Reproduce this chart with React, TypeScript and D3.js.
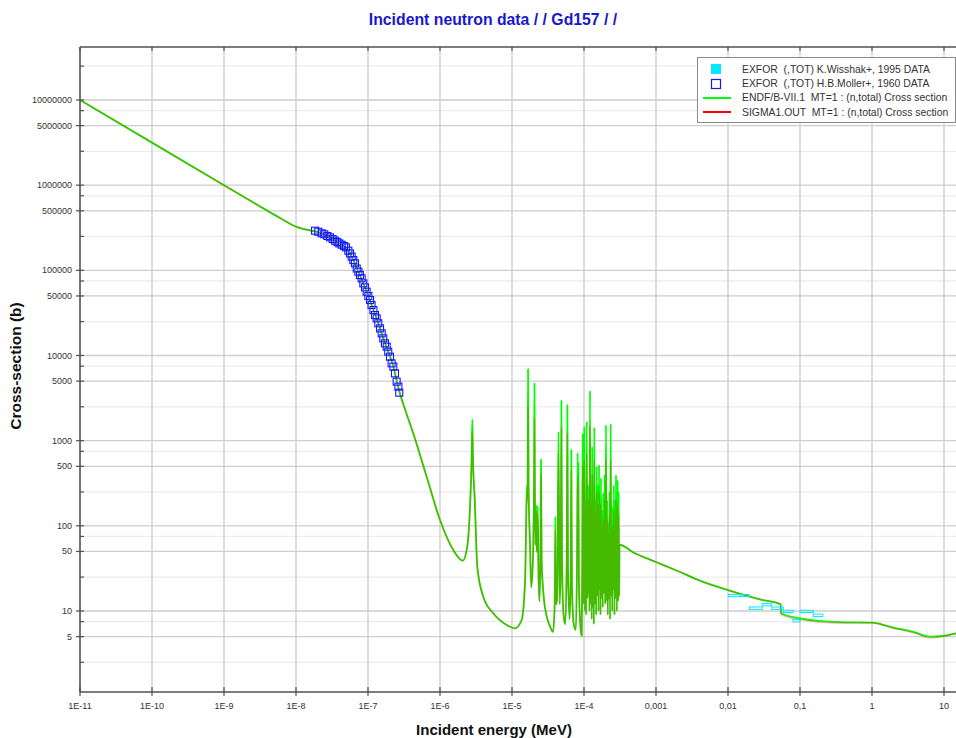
import React from "react";
import * as d3 from "d3";

// ---------- data ----------
const titleText = "Incident neutron data / / Gd157 / /";
const xTitle = "Incident energy (MeV)";
const yTitle = "Cross-section (b)";

// ENDF/B-VII.1 total cross section [E (MeV), sigma (b)]
const endfPoints: [number, number][] = [
  [1e-11, 1.0e7], [1e-10, 3.16e6], [1e-9, 1.0e6], [3e-9, 5.78e5], [6e-9, 4.12e5], [1e-8, 3.26e5], [1.4e-8, 3.0e5],
  [1.84e-8, 2.86e5], [2.47e-8, 2.63e5], [3.23e-8, 2.33e5], [4.0e-8, 2.07e5], [4.65e-8, 1.92e5],
  [5.33e-8, 1.7e5], [6.25e-8, 1.32e5], [7.35e-8, 9.6e4], [8.61e-8, 7.0e4], [1.01e-7, 5.0e4],
  [1.19e-7, 3.42e4], [1.39e-7, 2.39e4], [1.63e-7, 1.59e4], [1.91e-7, 1.11e4], [2.25e-7, 7.4e3],
  [2.5e-7, 5.1e3], [2.72e-7, 3.8e3], [3.0e-7, 2.9e3], [4.25e-7, 1220], [6.53e-7, 377],
  [1.0e-6, 117], [1.53e-6, 52], [2.07e-6, 39], [2.39e-6, 57], [2.61e-6, 168],
  [2.75e-6, 650], [2.81e-6, 1780], [2.87e-6, 650], [3.03e-6, 220], [3.3e-6, 33],
  [3.99e-6, 14.7], [5.5e-6, 9.4], [8.44e-6, 6.85], [1.1e-5, 6.26], [1.36e-5, 7.84],
  [1.52e-5, 23], [1.6e-5, 240], [1.62e-5, 300], [1.64e-5, 200], [1.67e-5, 6900],
  [1.7e-5, 300], [1.78e-5, 60], [1.85e-5, 19], [1.95e-5, 40], [2.02e-5, 300],
  [2.05e-5, 4700], [2.08e-5, 300], [2.12e-5, 60], [2.16e-5, 175], [2.2e-5, 50],
  [2.28e-5, 170], [2.33e-5, 30], [2.4e-5, 13], [2.48e-5, 40], [2.53e-5, 600],
  [2.58e-5, 40], [2.75e-5, 15], [3.0e-5, 9], [3.4e-5, 6.5], [3.72e-5, 5.7],
  [3.92e-5, 12], [4.0e-5, 128], [4.08e-5, 12], [4.25e-5, 14], [4.42e-5, 1270],
  [4.6e-5, 12], [4.75e-5, 40], [4.85e-5, 2950], [4.95e-5, 40], [5.2e-5, 9],
  [5.5e-5, 7], [5.75e-5, 40], [5.87e-5, 2620], [6.0e-5, 30], [6.3e-5, 8],
  [6.55e-5, 30], [6.66e-5, 780], [6.8e-5, 20], [7.2e-5, 7], [7.7e-5, 6],
  [8.0e-5, 40], [8.17e-5, 720], [8.25e-5, 60], [8.35e-5, 550], [8.5e-5, 20],
  [9.0e-5, 6], [9.3e-5, 5.1], [9.45e-5, 40], [9.59e-5, 1220], [9.8e-5, 12],
  [1.01e-4, 1460], [1.03e-4, 10], [1.05e-4, 200], [1.07e-4, 9], [1.09e-4, 1670],
  [1.115e-4, 14], [1.14e-4, 300], [1.155e-4, 16], [1.17e-4, 150], [1.19e-4, 10],
  [1.21e-4, 3860], [1.235e-4, 12], [1.26e-4, 250], [1.28e-4, 8], [1.3e-4, 850],
  [1.325e-4, 11], [1.35e-4, 120], [1.37e-4, 7], [1.39e-4, 1435], [1.42e-4, 12],
  [1.45e-4, 200], [1.475e-4, 9], [1.5e-4, 494], [1.53e-4, 15], [1.56e-4, 300],
  [1.59e-4, 10], [1.62e-4, 518], [1.645e-4, 18], [1.67e-4, 180], [1.695e-4, 9],
  [1.72e-4, 362], [1.755e-4, 14], [1.79e-4, 150], [1.82e-4, 11], [1.85e-4, 241],
  [1.89e-4, 16], [1.93e-4, 400], [1.97e-4, 12], [2.02e-4, 1528], [2.06e-4, 13],
  [2.1e-4, 200], [2.14e-4, 9], [2.18e-4, 107], [2.22e-4, 14], [2.26e-4, 250],
  [2.3e-4, 8], [2.35e-4, 1570], [2.39e-4, 15], [2.43e-4, 120], [2.47e-4, 10],
  [2.51e-4, 168], [2.55e-4, 18], [2.6e-4, 300], [2.65e-4, 9], [2.7e-4, 200],
  [2.74e-4, 14], [2.78e-4, 395], [2.86e-4, 10], [2.94e-4, 345], [2.98e-4, 13],
  [3.03e-4, 250], [3.08e-4, 15], [3.11e-4, 60], [5e-4, 48], [1.0e-3, 37.6], [2e-3, 29.5], [4.08e-3, 22.7],
  [1.0e-2, 17.6], [2.78e-2, 13.7], [5.4e-2, 12.0], [5.45e-2, 9.4], [1.0e-1, 8.2],
  [3.6e-1, 7.4], [1.0, 7.3], [1.98, 6.4], [3.75, 5.7], [6.4, 5.0],
  [10, 5.12], [14.7, 5.47], [20, 5.7],
];

// SIGMA1.OUT (Doppler broadened) [E (MeV), sigma (b)]
const sigma1Points: [number, number][] = [
  [1e-11, 1.0e7], [1e-10, 3.16e6], [1e-9, 1.0e6], [3e-9, 5.78e5], [6e-9, 4.12e5], [1e-8, 3.26e5], [1.4e-8, 3.0e5],
  [1.84e-8, 2.86e5], [2.47e-8, 2.63e5], [3.23e-8, 2.33e5], [4.0e-8, 2.07e5], [4.65e-8, 1.92e5],
  [5.33e-8, 1.7e5], [6.25e-8, 1.32e5], [7.35e-8, 9.6e4], [8.61e-8, 7.0e4], [1.01e-7, 5.0e4],
  [1.19e-7, 3.42e4], [1.39e-7, 2.39e4], [1.63e-7, 1.59e4], [1.91e-7, 1.11e4], [2.25e-7, 7.4e3],
  [2.5e-7, 5.1e3], [2.72e-7, 3.8e3], [3.0e-7, 2.9e3], [4.25e-7, 1220], [6.53e-7, 377],
  [1.0e-6, 117], [1.53e-6, 52], [2.07e-6, 39], [2.39e-6, 57], [2.61e-6, 160],
  [2.75e-6, 500], [2.81e-6, 1300], [2.87e-6, 500], [3.03e-6, 200], [3.3e-6, 33],
  [3.99e-6, 14.7], [5.5e-6, 9.4], [8.44e-6, 6.85], [1.1e-5, 6.26], [1.36e-5, 7.84],
  [1.52e-5, 22], [1.6e-5, 200], [1.62e-5, 250], [1.64e-5, 180], [1.67e-5, 2500],
  [1.7e-5, 250], [1.78e-5, 58], [1.85e-5, 19], [1.95e-5, 38], [2.02e-5, 250],
  [2.05e-5, 1800], [2.08e-5, 250], [2.12e-5, 58], [2.16e-5, 150], [2.2e-5, 48],
  [2.28e-5, 140], [2.33e-5, 30], [2.4e-5, 13], [2.48e-5, 38], [2.53e-5, 400],
  [2.58e-5, 38], [2.75e-5, 15], [3.0e-5, 9], [3.4e-5, 6.5], [3.72e-5, 5.7],
  [3.92e-5, 12], [4.0e-5, 90], [4.08e-5, 12], [4.25e-5, 14], [4.42e-5, 700],
  [4.6e-5, 12], [4.75e-5, 38], [4.85e-5, 1400], [4.95e-5, 38], [5.2e-5, 9],
  [5.5e-5, 7], [5.75e-5, 38], [5.87e-5, 1200], [6.0e-5, 28], [6.3e-5, 8],
  [6.55e-5, 28], [6.66e-5, 450], [6.8e-5, 19], [7.2e-5, 7], [7.7e-5, 6],
  [8.0e-5, 38], [8.17e-5, 400], [8.25e-5, 58], [8.35e-5, 300], [8.5e-5, 19],
  [9.0e-5, 6], [9.3e-5, 5.1], [9.45e-5, 38], [9.59e-5, 500], [9.8e-5, 12],
  [1.01e-4, 600], [1.03e-4, 10], [1.05e-4, 150], [1.07e-4, 9], [1.09e-4, 700],
  [1.115e-4, 14], [1.14e-4, 200], [1.155e-4, 16], [1.17e-4, 110], [1.19e-4, 10],
  [1.21e-4, 1500], [1.235e-4, 12], [1.26e-4, 170], [1.28e-4, 8], [1.3e-4, 400],
  [1.325e-4, 11], [1.35e-4, 90], [1.37e-4, 7], [1.39e-4, 600], [1.42e-4, 12],
  [1.45e-4, 140], [1.475e-4, 9], [1.5e-4, 250], [1.53e-4, 15], [1.56e-4, 180],
  [1.59e-4, 10], [1.62e-4, 250], [1.645e-4, 18], [1.67e-4, 120], [1.695e-4, 9],
  [1.72e-4, 180], [1.755e-4, 14], [1.79e-4, 100], [1.82e-4, 11], [1.85e-4, 120],
  [1.89e-4, 16], [1.93e-4, 200], [1.97e-4, 12], [2.02e-4, 600], [2.06e-4, 13],
  [2.1e-4, 120], [2.14e-4, 9], [2.18e-4, 80], [2.22e-4, 14], [2.26e-4, 140],
  [2.3e-4, 8], [2.35e-4, 600], [2.39e-4, 15], [2.43e-4, 80], [2.47e-4, 10],
  [2.51e-4, 100], [2.55e-4, 18], [2.6e-4, 150], [2.65e-4, 9], [2.7e-4, 110],
  [2.74e-4, 14], [2.78e-4, 200], [2.86e-4, 10], [2.94e-4, 170], [2.98e-4, 13],
  [3.03e-4, 130], [3.08e-4, 15], [3.11e-4, 60], [5e-4, 48], [1.0e-3, 37.6], [2e-3, 29.5], [4.08e-3, 22.7],
  [1.0e-2, 17.6], [2.78e-2, 13.7], [5.4e-2, 12.0], [5.45e-2, 9.1], [1.0e-1, 7.9],
  [3.6e-1, 7.2], [1.0, 7.25], [1.98, 6.3], [3.75, 5.55], [6.4, 4.85],
  [10, 5.05], [14.7, 5.45], [20, 5.7],
];

// EXFOR H.B.Moller+, 1960 [E (MeV), sigma (b)]
const mollerPoints: [number, number][] = [
  [1.84e-8, 2.92e5], [2.04e-8, 2.84e5], [2.27e-8, 2.72e5], [2.47e-8, 2.65e5], [2.72e-8, 2.53e5],
  [2.96e-8, 2.44e5], [3.23e-8, 2.33e5], [3.48e-8, 2.23e5], [3.75e-8, 2.15e5], [4.0e-8, 2.07e5],
  [4.31e-8, 2.0e5], [4.65e-8, 1.93e5], [4.94e-8, 1.86e5], [5.33e-8, 1.7e5], [5.62e-8, 1.58e5],
  [5.93e-8, 1.45e5], [6.25e-8, 1.32e5], [6.59e-8, 1.21e5], [6.97e-8, 1.05e5], [7.35e-8, 9.64e4],
  [7.74e-8, 8.81e4], [8.17e-8, 8.05e4], [8.61e-8, 7.03e4], [9.08e-8, 6.31e4], [9.57e-8, 5.61e4],
  [1.01e-7, 4.99e4], [1.07e-7, 4.48e4], [1.12e-7, 3.92e4], [1.19e-7, 3.42e4], [1.25e-7, 2.99e4],
  [1.32e-7, 2.73e4], [1.39e-7, 2.39e4], [1.47e-7, 2.08e4], [1.55e-7, 1.82e4], [1.63e-7, 1.59e4],
  [1.72e-7, 1.39e4], [1.82e-7, 1.27e4], [1.91e-7, 1.11e4], [2.02e-7, 9.68e3], [2.13e-7, 8.09e3],
  [2.25e-7, 7.4e3], [2.37e-7, 6.17e3], [2.5e-7, 4.93e3], [2.64e-7, 4.31e3], [2.72e-7, 3.66e3],
];

// EXFOR K.Wisshak+, 1995 (energy bins)
const wisshakLo = [0.0101, 0.0147, 0.0198, 0.0299, 0.0405, 0.0586, 0.08, 0.1, 0.153];
const wisshakHi = [0.0147, 0.0198, 0.0299, 0.0405, 0.0586, 0.08, 0.1, 0.153, 0.207];
const wisshakXs = [15.2, 15.2, 10.8, 11.9, 10.8, 9.9, 7.7, 9.9, 8.9];
const wisshakErr = [0.45, 0.45, 0.35, 0.4, 0.35, 0.3, 0.25, 0.3, 0.3];

const xTickValues = [1e-11, 1e-10, 1e-9, 1e-8, 1e-7, 1e-6, 1e-5, 1e-4, 1e-3, 1e-2, 1e-1, 1, 10];
const xTickLabels = ["1E-11", "1E-10", "1E-9", "1E-8", "1E-7", "1E-6", "1E-5", "1E-4", "0,001", "0,01", "0,1", "1", "10"];
const yTickValues = [5, 10, 50, 100, 500, 1000, 5000, 10000, 50000, 100000, 500000, 1000000, 5000000, 10000000];
const yTickLabels = ["5", "10", "50", "100", "500", "1000", "5000", "10000", "50000", "100000", "500000", "1000000", "5000000", "10000000"];
const yMinorValues = [2.5, 7.5, 25, 75, 250, 750, 2500, 7500, 25000, 75000, 250000, 750000, 2500000, 7500000, 25000000];

const legendLabels = [
  "EXFOR  (,TOT) K.Wisshak+, 1995 DATA",
  "EXFOR  (,TOT) H.B.Moller+, 1960 DATA",
  "ENDF/B-VII.1  MT=1 : (n,total) Cross section",
  "SIGMA1.OUT  MT=1 : (n,total) Cross section",
];

// ---------- layout ----------
const W = 956;
const H = 738;
const left = 80;
const right = 956;
const top = 47;
const bottom = 692;
const FONT = "'Liberation Sans', Arial, Helvetica, sans-serif";

export default function App() {
  const x = d3.scaleLog().domain([1e-11, 10]).range([80, 944]);
  const y = d3.scaleLog().domain([10, 1e7]).range([611, 100]);

  const line = d3
    .line<[number, number]>()
    .x((d) => x(d[0]))
    .y((d) => y(d[1]))
    .curve(d3.curveMonotoneX);

  const gridMajor = "#cdcdcd";
  const gridMinor = "#ececec";
  const axisColor = "#505050";

  return (
    <svg
      width={W}
      height={H}
      style={{ position: "absolute", left: 0, top: 0, background: "#fff" }}
      fontFamily={FONT}
    >
      <defs>
        <clipPath id="plotClip">
          <rect x={left} y={top} width={right - left} height={bottom - top} />
        </clipPath>
      </defs>
      <rect x={0} y={0} width={W} height={H} fill="#fff" />

      {/* grid */}
      <g>
        {yMinorValues.map((v, i) => (
          <line key={"gm" + i} x1={left} x2={right} y1={y(v)} y2={y(v)} stroke={gridMinor} strokeWidth={1.3} />
        ))}
        {yTickValues.map((v, i) => (
          <line key={"gy" + i} x1={left} x2={right} y1={y(v)} y2={y(v)} stroke={gridMajor} strokeWidth={1.3} />
        ))}
        {xTickValues.map((v, i) => (
          <line key={"gx" + i} x1={x(v)} x2={x(v)} y1={top} y2={bottom} stroke={gridMajor} strokeWidth={1.3} />
        ))}
      </g>

      {/* curves */}
      <g clipPath="url(#plotClip)">
        <path d={line(endfPoints) || ""} fill="none" stroke="#00ff00" strokeWidth={1.8} strokeLinejoin="round" />
        <path d={line(sigma1Points) || ""} fill="none" stroke="#ff0000" strokeWidth={1.7} strokeOpacity={0.27} strokeLinejoin="round" />
      </g>

      {/* EXFOR data */}
      <g clipPath="url(#plotClip)">
        {mollerPoints.map((d, i) => (
          <rect
            key={"m" + i}
            x={x(d[0]) - 3.5}
            y={y(d[1]) - 3.5}
            width={7}
            height={7}
            fill="none"
            stroke="#1515ff"
            strokeWidth={1.1}
          />
        ))}
        {wisshakXs.map((v, i) => (
          <rect
            key={"w" + i}
            x={x(wisshakLo[i])}
            y={y(v + wisshakErr[i])}
            width={x(wisshakHi[i]) - x(wisshakLo[i])}
            height={y(v - wisshakErr[i]) - y(v + wisshakErr[i])}
            fill="none"
            stroke="#00eaff"
            strokeWidth={1}
          />
        ))}
      </g>

      {/* axes */}
      <g>
        <line x1={left} x2={right} y1={top} y2={top} stroke={axisColor} strokeWidth={1.5} />
        <line x1={left} x2={right} y1={bottom} y2={bottom} stroke={axisColor} strokeWidth={1.5} />
        <line x1={left} x2={left} y1={top} y2={bottom} stroke={axisColor} strokeWidth={1.5} />
        {xTickValues.map((v, i) => (
          <g key={"xt" + i}>
            <line x1={x(v)} x2={x(v)} y1={bottom - 5} y2={bottom + 4} stroke={axisColor} strokeWidth={1.2} />
            <line x1={x(v)} x2={x(v)} y1={top} y2={top + 4} stroke={axisColor} strokeWidth={1.2} />
            <text x={x(v)} y={709} textAnchor="middle" fontSize={9} fill="#333">
              {xTickLabels[i]}
            </text>
          </g>
        ))}
        {yTickValues.map((v, i) => (
          <g key={"yt" + i}>
            <line x1={left - 4} x2={left + 4} y1={y(v)} y2={y(v)} stroke={axisColor} strokeWidth={1.2} />
            <text x={72} y={y(v) + 3} textAnchor="end" fontSize={9} fill="#333">
              {yTickLabels[i]}
            </text>
          </g>
        ))}
        {yMinorValues.map((v, i) => (
          <line key={"ym" + i} x1={left} x2={left + 4} y1={y(v)} y2={y(v)} stroke={axisColor} strokeWidth={1.2} />
        ))}
      </g>

      {/* titles */}
      <text x={493} y={25} textAnchor="middle" fontSize={15.8} fontWeight="bold" fill="#1818cc">
        {titleText}
      </text>
      <text x={494} y={735} textAnchor="middle" fontSize={15} fontWeight="bold" fill="#111">
        {xTitle}
      </text>
      <text
        transform={`translate(21, 366) rotate(-90)`}
        textAnchor="middle"
        fontSize={15.5}
        fontWeight="bold"
        fill="#111"
      >
        {yTitle}
      </text>

      {/* legend */}
      <g>
        <rect x={697.5} y={57.5} width={258} height={65} fill="#fff" stroke="#8c8c8c" strokeWidth={1} />
        <rect x={711} y={64} width={10} height={10} fill="#00eaff" />
        <rect x={711.5} y={79.5} width={9} height={9} fill="none" stroke="#1515ff" strokeWidth={1.2} />
        <line x1={703} x2={731} y1={98} y2={98} stroke="#00ff00" strokeWidth={2} />
        <line x1={703} x2={731} y1={112} y2={112} stroke="#ff0000" strokeWidth={2} />
        {legendLabels.map((t, i) => (
          <text key={"lg" + i} x={742} y={72.8 + i * 14.3} fontSize={10.4} fill="#333" style={{ whiteSpace: "pre" }}>
            {t}
          </text>
        ))}
      </g>
    </svg>
  );
}
